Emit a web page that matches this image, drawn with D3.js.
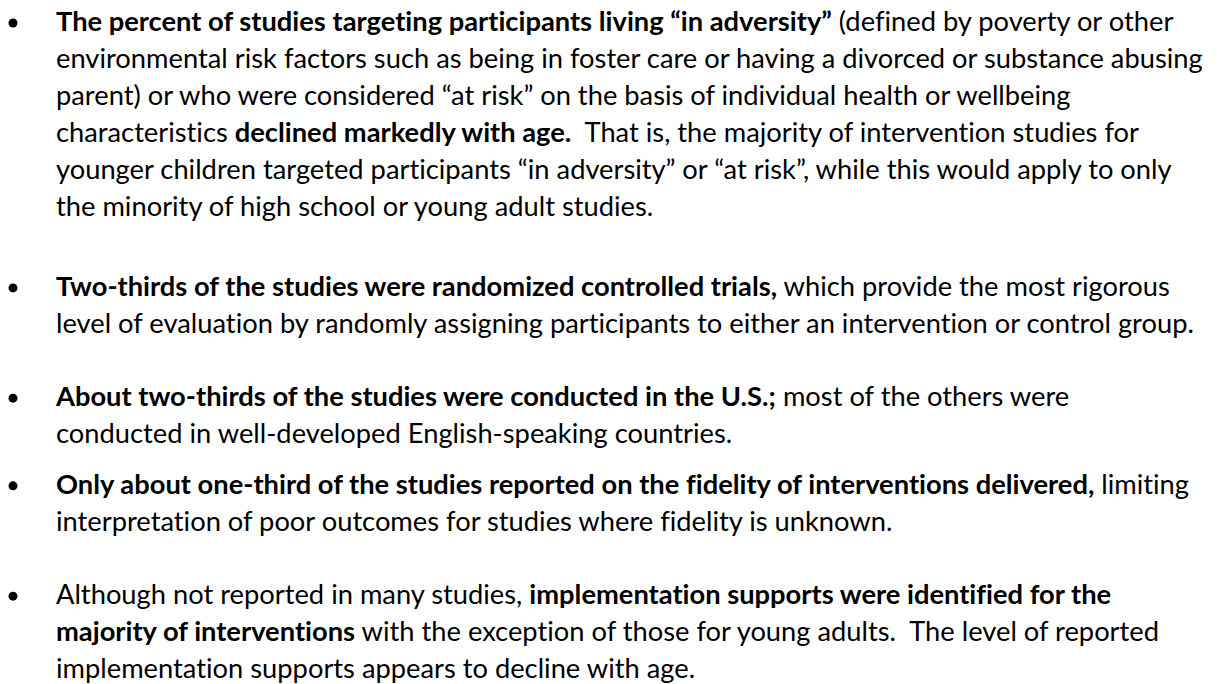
<!DOCTYPE html>
<html lang='en'>
	<head>
		<title>Study findings</title>
		<script type='text/javascript' src='https://cdn.jsdelivr.net/npm/d3@7'></script>
		<style>
			body { margin: 0; background: #fff; }
			text { white-space: pre; font-variant-ligatures: none; font-feature-settings: "liga" 0, "dlig" 0; }
		</style>
	</head>
	<body>
		<script type='text/javascript'>
			// each line is a list of runs: [text, bold]
			var bullet1 = [
				[['The percent of studies targeting participants living \u201cin adversity\u201d', 1], [' (defined by poverty or other', 0]],
				[['environmental risk factors such as being in foster care or having a divorced or substance abusing', 0]],
				[['parent) or who were considered \u201cat risk\u201d on the basis of individual health or wellbeing', 0]],
				[['characteristics ', 0], ['declined markedly with age.', 1], ['  That is, the majority of intervention studies for', 0]],
				[['younger children targeted participants \u201cin adversity\u201d or \u201cat risk\u201d, while this would apply to only', 0]],
				[['the minority of high school or young adult studies.', 0]]
			];
			var bullet2 = [
				[['Two-thirds of the studies were randomized controlled trials,', 1], [' which provide the most rigorous', 0]],
				[['level of evaluation by randomly assigning participants to either an intervention or control group.', 0]]
			];
			var bullet3 = [
				[['About two-thirds of the studies were conducted in the U.S.;', 1], [' most of the others were', 0]],
				[['conducted in well-developed English-speaking countries.', 0]]
			];
			var bullet4 = [
				[['Only about one-third of the studies reported on the fidelity of interventions delivered,', 1], [' limiting', 0]],
				[['interpretation of poor outcomes for studies where fidelity is unknown.', 0]]
			];
			var bullet5 = [
				[['Although not reported in many studies, ', 0], ['implementation supports were identified for the', 1]],
				[['majority of interventions', 1], [' with the exception of those for young adults.  The level of reported', 0]],
				[['implementation supports appears to decline with age.', 0]]
			];
			var bullets = [bullet1, bullet2, bullet3, bullet4, bullet5];
			// extra space before each bullet, in line units
			var gapBefore = [0, 1.16, 0.98, 0.37, 0.98];

			var width = 1217, height = 684;
			var textX = 56, dotX = 13, fontSize = 27.3;
			var firstBase = 31, lineStep = 37;

			// row position of every line, in line units
			var rows = [], r = 0;
			bullets.forEach(function(b, i) {
				r += gapBefore[i];
				b.forEach(function(line, j) {
					rows.push({ row: r, runs: line, first: j == 0 });
					r += 1;
				});
			});

			var y = d3.scaleLinear().domain([0, 1]).range([firstBase, firstBase + lineStep]);

			var svg = d3.select('body').append('svg').attr('width', width).attr('height', height)
				.style('font-family', 'Lato, "Open Sans", sans-serif')
				.style('font-size', fontSize + 'px')
				.attr('fill', '#000');

			var lines = svg.selectAll('g.line').data(rows).enter().append('g').attr('class', 'line');

			lines.append('text')
				.attr('x', textX)
				.attr('y', d => y(d.row))
				.selectAll('tspan').data(d => d.runs).enter().append('tspan')
				.style('font-weight', d => d[1] ? 700 : 400)
				.text(d => d[0]);

			lines.filter(d => d.first).append('circle')
				.attr('cx', dotX)
				.attr('cy', d => y(d.row) - 8)
				.attr('r', 4.5);
		</script>
	</body>
</html>
